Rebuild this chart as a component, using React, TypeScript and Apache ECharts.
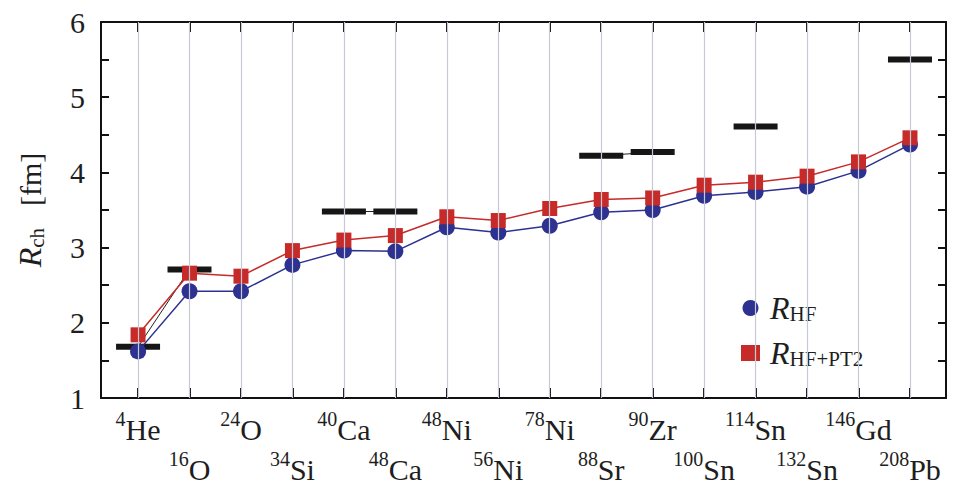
import React, { useEffect, useRef } from "react";
import * as echarts from "echarts";

const masses = ["4", "16", "24", "34", "40", "48", "48", "56", "78", "88", "90", "100", "114", "132", "146", "208"];
const elements = ["He", "O", "O", "Si", "Ca", "Ca", "Ni", "Ni", "Ni", "Sr", "Zr", "Sn", "Sn", "Sn", "Gd", "Pb"];
const rHF = [1.62, 2.42, 2.42, 2.77, 2.96, 2.95, 3.27, 3.2, 3.29, 3.47, 3.5, 3.69, 3.74, 3.81, 4.02, 4.37];
const rPT2 = [1.84, 2.66, 2.62, 2.96, 3.1, 3.16, 3.41, 3.36, 3.52, 3.64, 3.66, 3.83, 3.87, 3.95, 4.14, 4.46];
const rExp: (number | null)[] = [1.68, 2.71, null, null, 3.48, 3.48, null, null, null, 4.22, 4.27, null, 4.61, null, null, 5.5];

const FONT = "Liberation Serif";
const BLUE = "#2d3190";
const RED = "#c62b29";
const INK = "#1e1e1e";

export default function App() {
  const ref = useRef<HTMLDivElement>(null);
  useEffect(() => {
    if (!ref.current) return;
    const chart = echarts.init(ref.current, undefined, { renderer: "svg" });
    const idx = masses.map((_, i) => i);
    const xMin = -0.72;
    const xMax = 15.7;
    const labelValues = [xMin, ...idx, xMax];
    const axisLineStyle = { color: "#111", width: 2 };
    const option: any = {
      animation: false,
      textStyle: { fontFamily: FONT },
      grid: { left: 101, top: 22, right: 15, bottom: 87, containLabel: false },
      xAxis: [
        {
          type: "value",
          min: xMin,
          max: xMax,
          position: "bottom",
          axisLine: { show: true, onZero: false, lineStyle: axisLineStyle },
          axisTick: { show: true, inside: true, length: 10, lineStyle: axisLineStyle, customValues: idx },
          splitLine: { show: false },
          axisLabel: {
            customValues: labelValues,
            margin: 11,
            lineHeight: 40,
            fontFamily: FONT,
            fontSize: 30,
            color: INK,
            rich: {
              s: { fontFamily: FONT, fontSize: 20, color: INK, lineHeight: 24, verticalAlign: "top" },
              e: { fontFamily: FONT, fontSize: 30, color: INK, lineHeight: 40 },
            },
            formatter: (v: number) => {
              if (!Number.isInteger(v)) return "";
              const i = v;
              if (i < 0 || i >= masses.length) return "";
              const t = `{s|${masses[i]}}{e|${elements[i]}}`;
              return i % 2 === 0 ? t : `\n${t}`;
            },
          },
        },
        {
          type: "value",
          min: xMin,
          max: xMax,
          position: "top",
          axisLine: { show: true, onZero: false, lineStyle: axisLineStyle },
          axisTick: { show: true, inside: true, length: 10, lineStyle: axisLineStyle, customValues: idx },
          splitLine: { show: false },
          axisLabel: { show: false },
        },
      ],
      yAxis: [
        {
          type: "value",
          min: 1,
          max: 6,
          interval: 0.5,
          position: "left",
          axisLine: { show: true, onZero: false, lineStyle: axisLineStyle },
          axisTick: { show: true, inside: true, length: 8, lineStyle: axisLineStyle },
          splitLine: { show: false },
          axisLabel: {
            margin: 16,
            fontFamily: FONT,
            fontSize: 30,
            color: INK,
            formatter: (v: number) => (Number.isInteger(v) ? String(v) : ""),
          },
          name: "{r|R}{c|ch}{f|[fm]}",
          nameLocation: "middle",
          nameRotate: 90,
          nameGap: 54,
          nameTextStyle: {
            fontFamily: FONT,
            rich: {
              r: { fontFamily: FONT, fontSize: 32, fontStyle: "italic", color: INK, lineHeight: 34 },
              c: { fontFamily: FONT, fontSize: 21, color: INK, lineHeight: 14, verticalAlign: "bottom" },
              f: { fontFamily: FONT, fontSize: 30, color: INK, lineHeight: 34, padding: [0, 0, 0, 22] },
            },
          },
        },
        {
          type: "value",
          min: 1,
          max: 6,
          interval: 0.5,
          position: "right",
          axisLine: { show: true, onZero: false, lineStyle: axisLineStyle },
          axisTick: { show: true, inside: true, length: 8, lineStyle: axisLineStyle },
          splitLine: { show: false },
          axisLabel: { show: false },
        },
      ],
      legend: {
        orient: "vertical",
        left: 736,
        top: 287,
        itemGap: 13,
        itemWidth: 19,
        itemHeight: 16,
        data: [
          { name: "HF", icon: "circle" },
          { name: "HF+PT2", icon: "rect", itemStyle: { color: RED } },
        ],
        formatter: (n: string) => `{r|R}{h|${n}}`,
        textStyle: {
          fontFamily: FONT,
          rich: {
            r: { fontFamily: FONT, fontSize: 32, fontStyle: "italic", color: INK, lineHeight: 32, padding: [0, 0, 0, 5] },
            h: { fontFamily: FONT, fontSize: 21, color: INK, lineHeight: 12, verticalAlign: "bottom" },
          },
        },
      },
      series: [
        {
          name: "grid",
          type: "line",
          data: [],
          z: 0,
          silent: true,
          markLine: {
            silent: true,
            symbol: "none",
            label: { show: false },
            lineStyle: { color: "#c6cad4", type: "solid", width: 1.2 },
            data: idx.map((i) => ({ xAxis: i })),
          },
        },
        {
          name: "Exp",
          type: "line",
          z: 2,
          data: rExp.map((v, i) => [i, v === null ? "-" : v]),
          symbol: "rect",
          symbolSize: [44, 6],
          itemStyle: { color: "#161616" },
          lineStyle: { color: "#222", width: 1 },
          connectNulls: false,
        },
        {
          name: "HF",
          type: "line",
          z: 3,
          data: rHF.map((v, i) => [i, v]),
          symbol: "circle",
          symbolSize: 16,
          itemStyle: { color: BLUE },
          lineStyle: { color: BLUE, width: 1.5 },
        },
        {
          name: "HF+PT2",
          type: "line",
          z: 4,
          data: rPT2.map((v, i) => [i, v]),
          symbol: "rect",
          symbolSize: 15,
          itemStyle: { color: RED },
          lineStyle: { color: RED, width: 1.5 },
        },
      ],
    };
    chart.setOption(option);
    return () => chart.dispose();
  }, []);
  return <div ref={ref} style={{ width: 961, height: 489, position: "absolute", left: 0, top: 0 }} />;
}
